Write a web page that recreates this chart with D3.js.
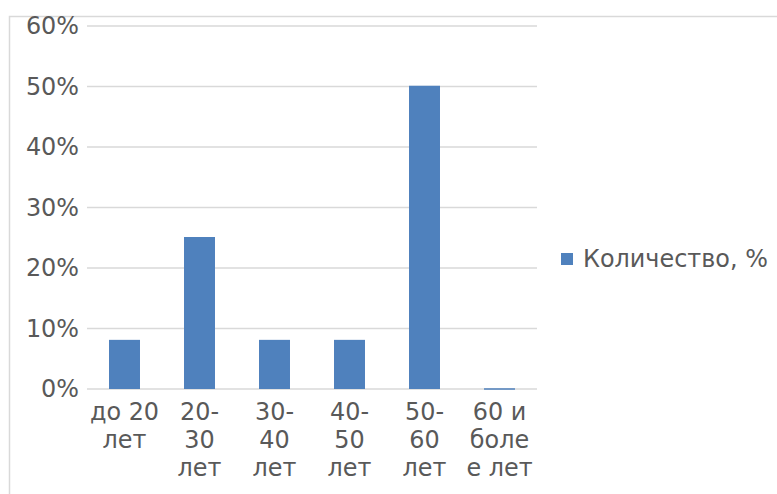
<!DOCTYPE html>
<html>
<head>
<meta charset="utf-8">
<script src="https://cdn.jsdelivr.net/npm/d3@7"></script>
<style>
  html, body { margin: 0; padding: 0; background: #fff; }
  svg { display: block; font-family: "DejaVu Sans", sans-serif; }
</style>
</head>
<body>
<svg id="chart" width="777" height="494"></svg>
<script>
// Age groups, one entry per line of each wrapped label
const categories = ["до 20 лет", "20-30 лет", "30-40 лет", "40-50 лет", "50-60 лет", "60 и более лет"];
const categoryLines = [
  ["до 20", "лет"],
  ["20-", "30", "лет"],
  ["30-", "40", "лет"],
  ["40-", "50", "лет"],
  ["50-", "60", "лет"],
  ["60 и", "боле", "е лет"]
];
// Share of respondents per group, percent
const values = [8, 25, 8, 8, 50, 0];
const yTicks = [0, 10, 20, 30, 40, 50, 60];
const seriesName = "Количество, %";

const svg = d3.select("#chart");
const textColor = "#595959";
const gridColor = "#d9d9d9";
const barColor = "#4f81bd";
const fontSize = 23.9;

// Outer chart frame (extends past the right and bottom edges)
svg.append("rect")
  .attr("x", 9.5).attr("y", 16.5)
  .attr("width", 800).attr("height", 520)
  .attr("fill", "none").attr("stroke", gridColor).attr("stroke-width", 1.5);

const plot = { left: 87, right: 537, top: 26, bottom: 389 };

const x = d3.scaleBand().domain(categories).range([plot.left, plot.right]).paddingInner(0.587).paddingOuter(0.2935);
const y = d3.scaleLinear().domain([0, 60]).range([plot.bottom, plot.top]);

// Horizontal gridlines
svg.append("g").selectAll("line").data(yTicks).join("line")
  .attr("x1", plot.left).attr("x2", plot.right)
  .attr("y1", d => y(d)).attr("y2", d => y(d))
  .attr("stroke", gridColor).attr("stroke-width", 1.5);

// Y axis labels
const yAxis = d3.axisLeft(y).tickValues(yTicks).tickFormat(d => d + "%").tickSize(0).tickPadding(8);
const yg = svg.append("g").attr("transform", `translate(${plot.left},0)`).call(yAxis);
yg.select(".domain").remove();
yg.selectAll("text").attr("fill", textColor).attr("font-size", fontSize).attr("font-family", "DejaVu Sans, sans-serif");

// Bars
const bars = svg.append("g");
bars.selectAll("rect").data(values).join("rect")
  .attr("x", (d, i) => x(categories[i]))
  .attr("y", d => y(d))
  .attr("width", x.bandwidth())
  .attr("height", d => y(0) - y(d))
  .attr("fill", barColor);
// Top edge of each bar, so an empty group still shows as a thin line
bars.selectAll("line").data(values).join("line")
  .attr("x1", (d, i) => x(categories[i]))
  .attr("x2", (d, i) => x(categories[i]) + x.bandwidth())
  .attr("y1", d => y(d)).attr("y2", d => y(d))
  .attr("stroke", barColor).attr("stroke-width", 1.5);

// Category labels, wrapped onto several lines
const xl = svg.append("g");
categories.forEach((c, i) => {
  const cx = x(c) + x.bandwidth() / 2;
  const t = xl.append("text")
    .attr("x", cx).attr("y", 420)
    .attr("text-anchor", "middle")
    .attr("fill", textColor).attr("font-size", fontSize);
  categoryLines[i].forEach((line, j) => {
    t.append("tspan").attr("x", cx).attr("dy", j === 0 ? 0 : 28).text(line);
  });
});

// Legend
const lg = svg.append("g");
lg.append("rect").attr("x", 561).attr("y", 253).attr("width", 12).attr("height", 12).attr("fill", barColor);
lg.append("text").attr("x", 583).attr("y", 259).attr("dy", "0.35em")
  .attr("fill", textColor).attr("font-size", fontSize).text(seriesName);
</script>
</body>
</html>
